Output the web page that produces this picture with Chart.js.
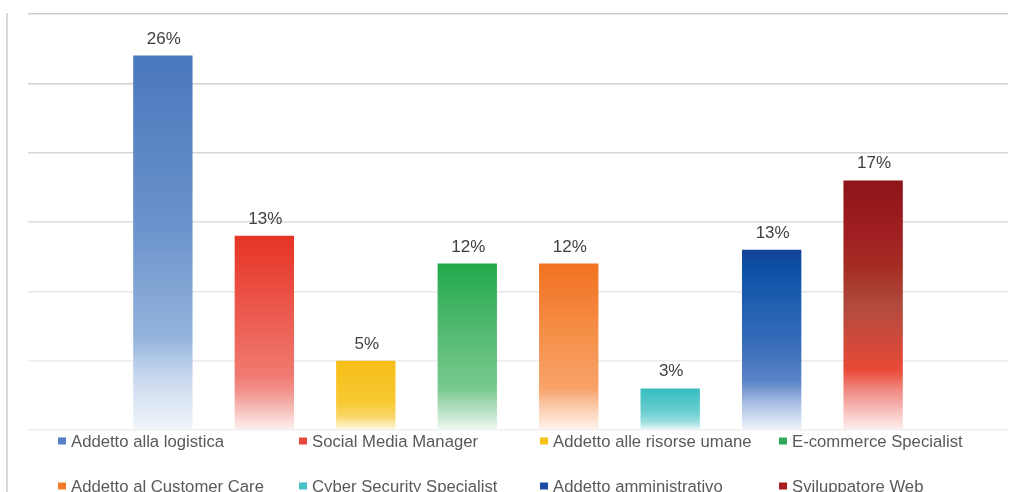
<!DOCTYPE html>
<html>
<head>
<meta charset="utf-8">
<script src="https://cdn.jsdelivr.net/npm/chart.js@4.4.1/dist/chart.umd.min.js"></script>
<style>
  html, body { margin: 0; padding: 0; background: #ffffff; }
  #wrap { width: 1011px; height: 492px; position: relative; }
</style>
</head>
<body>
<div id="wrap"><canvas id="c" width="1011" height="492"></canvas></div>
<script>
// ---- data ----
const categories = ["Addetto alla logistica", "Social Media Manager", "Addetto alle risorse umane", "E-commerce Specialist",
                    "Addetto al Customer Care", "Cyber Security Specialist", "Addetto amministrativo", "Sviluppatore Web"];
const barValues = [27, 14, 5, 12, 12, 3, 13, 18];          // bar heights as drawn
const valueLabels = ["26%", "13%", "5%", "12%", "12%", "3%", "13%", "17%"]; // labels printed above bars
const yTicks = [0, 5, 10, 15, 20, 25, 30];

// ---- styles ----
const legendColors = ["#5580c4", "#e8473c", "#f7c318", "#2fa95a", "#f27a2a", "#45c2c5", "#1c4ea3", "#a51f1f"];
const gradientStops = [
  [[0, "#4a78bd"], [0.45, "#6a92cb"], [0.75, "#93b3dc"], [0.86, "#c9d8ee"], [1, "#f3f6fb"]],
  [[0, "#e63426"], [0.35, "#eb5549"], [0.72, "#f07a70"], [0.8, "#f1928b"], [1, "#fdf1f0"]],
  [[0, "#f6be16"], [0.6, "#f8c933"], [0.8, "#fad668"], [1, "#fff8e6"]],
  [[0, "#22a94b"], [0.45, "#58bc75"], [0.75, "#78c98f"], [0.85, "#a8dab6"], [1, "#f0f8f2"]],
  [[0, "#f27121"], [0.45, "#f5914a"], [0.75, "#f8a26a"], [0.85, "#fbc7a5"], [1, "#fff4ee"]],
  [[0, "#36bdc0"], [0.55, "#68cdcf"], [0.8, "#9adfe0"], [1, "#eaf8f8"]],
  [[0, "#164297"], [0.1, "#0a51a6"], [0.55, "#3b6fbb"], [0.73, "#5b84c6"], [0.85, "#a7bde3"], [1, "#f0f4fb"]],
  [[0, "#8d1519"], [0.2, "#9f1d20"], [0.35, "#a52d22"], [0.5, "#b04a3e"], [0.76, "#e94a37"], [0.84, "#f08a82"], [1, "#fdf0f0"]]
];
const gridColors = ["#f0f0f0", "#ececec", "#e6e6e6", "#dedede", "#d8d8d8", "#d0d0d0", "#cdcdcd"];
const FONT = "'Liberation Sans', Arial, sans-serif";

function makeGradient(ctx, i) {
  const chart = ctx.chart;
  if (!chart.chartArea || !chart.scales.y) return legendColors[i];
  const y = chart.scales.y;
  const top = y.getPixelForValue(barValues[i]);
  const bottom = y.getPixelForValue(0);
  const g = chart.ctx.createLinearGradient(0, top, 0, bottom);
  gradientStops[i].forEach(s => g.addColorStop(s[0], s[1]));
  return g;
}

const datasets = categories.map((name, i) => ({
  label: name,
  data: [barValues[i]],
  backgroundColor: (ctx) => makeGradient(ctx, i),
  borderWidth: 0,
  categoryPercentage: 0.8283,
  barPercentage: 0.585
}));

const decorPlugin = {
  id: 'decor',
  beforeDraw(chart) {
    const c = chart.ctx;
    c.save();
    c.strokeStyle = "#d9d9d9";
    c.lineWidth = 2;
    c.beginPath();
    c.moveTo(7, 13);
    c.lineTo(7, 492);
    c.stroke();
    c.restore();
  },
  afterDatasetsDraw(chart) {
    const c = chart.ctx;
    c.save();
    c.font = "17px " + FONT;
    c.fillStyle = "#404040";
    c.textAlign = "center";
    c.textBaseline = "alphabetic";
    chart.data.datasets.forEach((ds, i) => {
      const meta = chart.getDatasetMeta(i);
      const el = meta.data[0];
      c.fillText(valueLabels[i], el.x + 1, el.y - 12);
    });
    // legend
    c.font = "16.7px " + FONT;
    c.textAlign = "left";
    c.textBaseline = "middle";
    const colX = [58, 299, 540, 779];
    const rowY = [441, 486];
    categories.forEach((name, i) => {
      const x = colX[i % 4];
      const y = rowY[Math.floor(i / 4)];
      c.fillStyle = legendColors[i];
      c.fillRect(x, y - 3.5, 8, 7);
      c.fillStyle = "#595959";
      c.fillText(name, x + 13, y + 1);
    });
    c.restore();
  }
};

new Chart(document.getElementById('c'), {
  type: 'bar',
  data: { labels: [""], datasets },
  options: {
    responsive: false,
    animation: false,
    layout: { padding: { left: 28, right: 3, top: 14, bottom: 62 } },
    plugins: { legend: { display: false }, tooltip: { enabled: false } },
    scales: {
      x: { display: false },
      y: {
        min: 0, max: 30,
        afterBuildTicks: (axis) => { axis.ticks = yTicks.map(v => ({ value: v })); },
        afterFit: (axis) => { axis.width = 0; },
        ticks: { display: false },
        border: { display: false },
        grid: {
          drawTicks: false,
          lineWidth: 1.5,
          color: (ctx) => gridColors[ctx.index] || "#dddddd"
        }
      }
    }
  },
  plugins: [decorPlugin]
});
</script>
</body>
</html>
